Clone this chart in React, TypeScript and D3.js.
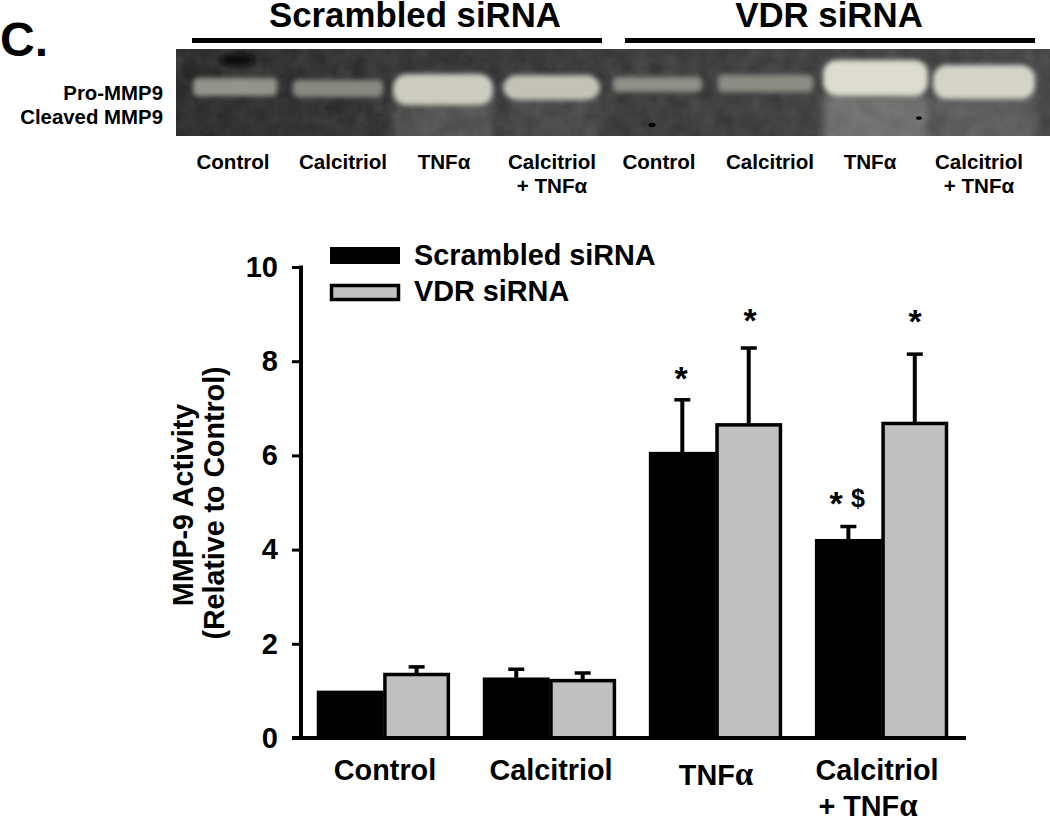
import React, { useEffect, useRef } from 'react'
import * as d3 from 'd3'

const groups = ['Control', 'Calcitriol', 'TNFα', 'Calcitriol + TNFα']
const seriesNames = ['Scrambled siRNA', 'VDR siRNA']
const scrambledValues = [1.0, 1.28, 6.07, 4.22]
const scrambledErrors = [0, 0.18, 1.11, 0.27]
const vdrValues = [1.38, 1.25, 6.68, 6.71]
const vdrErrors = [0.13, 0.13, 1.6, 1.44]
const yTicks = [0, 2, 4, 6, 8, 10]

const laneNames = ['Control', 'Calcitriol', 'TNFα', 'Calcitriol + TNFα', 'Control', 'Calcitriol', 'TNFα', 'Calcitriol + TNFα']
const laneBrightness = [0.55, 0.48, 0.9, 0.84, 0.52, 0.5, 1, 0.95]
const laneBandLeft = [17, 117, 217, 327, 437, 542, 647, 757]
const laneBandRight = [101, 207, 317, 424, 526, 637, 752, 859]
const laneBandTop = [29, 31, 25, 26, 28, 26, 11, 16]
const laneBandBottom = [47, 48, 56, 51, 43, 43, 47, 50]
const laneSmear = [0, 0, 0.14, 0.07, 0, 0, 0.24, 0.13]

const width = 1050
const height = 818
const bold = '"Liberation Sans", Arial, sans-serif'
const serif = '"Liberation Serif", serif'

function App () {
  const axisRef = useRef<SVGGElement>(null)

  const y = d3.scaleLinear().domain([0, 10]).range([738, 267])
  const x = d3.scaleBand().domain(groups).range([317, 948]).paddingInner(0.2)
  const inner = d3.scaleBand().domain(seriesNames).range([0, x.bandwidth()])

  const gelX = d3.scaleLinear().domain([0, 874]).range([176, 1050])
  const gelY = d3.scaleLinear().domain([0, 87]).range([49, 136])
  const shade = d3.scaleLinear<string>().domain([0, 1]).range(['#3c3c3a', '#dcdcd0'])

  useEffect(() => {
    const g = d3.select(axisRef.current).attr('transform', 'translate(301,0)')
    g.call(d3.axisLeft(y).tickValues(yTicks).tickSize(9).tickPadding(14).tickFormat(d3.format('d')) as any)
    g.select('.domain').attr('stroke-width', 4).attr('d', 'M0,265.5V740')
    g.selectAll('.tick line').attr('stroke-width', 3)
    g.selectAll('.tick text')
      .attr('font-family', bold)
      .attr('font-weight', 700)
      .attr('font-size', 29)
      .attr('fill', '#000')
  }, [])

  const series = [
    { name: seriesNames[0], values: scrambledValues, errors: scrambledErrors, fill: '#000' },
    { name: seriesNames[1], values: vdrValues, errors: vdrErrors, fill: '#c0c0c0' }
  ]

  const barLabel = { fontFamily: bold, fontWeight: 700, fontSize: 28.8, textAnchor: 'middle' as const }
  const axisTitle = { fontFamily: bold, fontWeight: 700, fontSize: 28.6, textAnchor: 'middle' as const }
  const gelLabel = { fontFamily: bold, fontWeight: 700, fontSize: 20.6, textAnchor: 'middle' as const }
  const sideLabel = { fontFamily: bold, fontWeight: 700, fontSize: 20.4, textAnchor: 'end' as const }
  const laneLabelX = [233, 343, 444, 552, 659, 770, 870, 979]

  return (
    <svg width={width} height={height} style={{ position: 'absolute', left: 0, top: 0, display: 'block' }}>
      <defs>
        <filter id='bandBlur' x='-20%' y='-50%' width='140%' height='200%'>
          <feGaussianBlur stdDeviation='2.6' />
        </filter>
        <filter id='smearBlur' x='-20%' y='-20%' width='140%' height='140%'>
          <feGaussianBlur stdDeviation='5' />
        </filter>
        <filter id='gelNoise' x='0' y='0' width='100%' height='100%'>
          <feTurbulence type='fractalNoise' baseFrequency='0.06' numOctaves='3' seed='4' />
          <feColorMatrix type='matrix' values='0 0 0 0 0.5  0 0 0 0 0.5  0 0 0 0 0.5  0.6 0.6 0 0 -0.25' />
        </filter>
        <linearGradient id='gelBack' x1='0' x2='1' y1='0' y2='0'>
          <stop offset='0' stopColor='#232323' />
          <stop offset='0.5' stopColor='#333333' />
          <stop offset='1' stopColor='#3e3e3e' />
        </linearGradient>
        <clipPath id='gelClip'>
          <rect x={176} y={49} width={874} height={87} />
        </clipPath>
      </defs>

      <text x={415} y={27} fontFamily={bold} fontWeight={700} fontSize={34.8} textAnchor='middle'>Scrambled siRNA</text>
      <text x={829} y={27} fontFamily={bold} fontWeight={700} fontSize={34.8} textAnchor='middle'>VDR siRNA</text>
      <rect x={192} y={38} width={410} height={5} fill='#000' />
      <rect x={625} y={38} width={410} height={5} fill='#000' />

      <text x={0} y={56} fontFamily={bold} fontWeight={700} fontSize={48}>C.</text>

      <g clipPath='url(#gelClip)'>
        <rect x={176} y={49} width={874} height={87} fill='url(#gelBack)' />
        <rect x={176} y={49} width={874} height={87} filter='url(#gelNoise)' opacity={0.25} />
        {laneNames.map((name, i) => (
          <rect key={'smear' + i} x={gelX(laneBandLeft[i])} y={gelY(45)}
            width={gelX(laneBandRight[i]) - gelX(laneBandLeft[i])} height={gelY(100) - gelY(45)}
            fill='#fff' opacity={laneSmear[i]} filter='url(#smearBlur)' />
        ))}
        {laneNames.map((name, i) => (
          <rect key={name + i} x={gelX(laneBandLeft[i])} y={gelY(laneBandTop[i])}
            width={gelX(laneBandRight[i]) - gelX(laneBandLeft[i])} height={gelY(laneBandBottom[i]) - gelY(laneBandTop[i])}
            rx={laneBrightness[i] > 0.8 ? 14 : 5}
            fill={shade(laneBrightness[i])} filter='url(#bandBlur)' />
        ))}
        <ellipse cx={237} cy={60} rx={18} ry={6} fill='#0c0c0c' filter='url(#bandBlur)' />
        <ellipse cx={652} cy={125} rx={3.5} ry={2.2} fill='#000' />
        <ellipse cx={919} cy={118} rx={3} ry={1.8} fill='#000' />
      </g>

      <text x={163} y={100} {...sideLabel}>Pro-MMP9</text>
      <text x={163} y={124} {...sideLabel}>Cleaved MMP9</text>

      {laneNames.map((name, i) => {
        const parts = name.split(' + ')
        return (
          <g key={'lab' + i}>
            <text x={laneLabelX[i]} y={169} {...gelLabel}>{parts[0]}</text>
            {parts[1] && <text x={laneLabelX[i]} y={193} {...gelLabel}>+ {parts[1]}</text>}
          </g>
        )
      })}

      <g>
        <rect x={330} y={247} width={70} height={17} fill='#000' />
        <rect x={331.5} y={285.5} width={67} height={14} fill='#c0c0c0' stroke='#000' strokeWidth={3.5} />
        <text x={414} y={265} fontFamily={bold} fontWeight={700} fontSize={28.8}>{seriesNames[0]}</text>
        <text x={414} y={301} fontFamily={bold} fontWeight={700} fontSize={28.8}>{seriesNames[1]}</text>
      </g>

      {series.map(s => (
        <g key={s.name}>
          {groups.map((grp, i) => {
            const bx = x(grp)! + inner(s.name)!
            const cx = bx + inner.bandwidth() / 2
            const top = y(s.values[i])
            const errTop = y(s.values[i] + s.errors[i])
            return (
              <g key={grp}>
                {s.errors[i] > 0 && <line x1={cx} x2={cx} y1={top} y2={errTop} stroke='#000' strokeWidth={4} />}
                {s.errors[i] > 0 && <line x1={cx - 8} x2={cx + 8} y1={errTop} y2={errTop} stroke='#000' strokeWidth={3.5} />}
                <rect x={bx + 1.5} y={top + 1.5} width={inner.bandwidth() - 3} height={y(0) - top - 1.5}
                  fill={s.fill} stroke='#000' strokeWidth={3.5} />
              </g>
            )
          })}
        </g>
      ))}

      <g ref={axisRef} />
      <line x1={292} x2={966} y1={y(0)} y2={y(0)} stroke='#000' strokeWidth={4} />

      <g fontFamily={bold} fontWeight={700} fontSize={34}>
        <text x={681} y={390} textAnchor='middle'>*</text>
        <text x={750} y={332} textAnchor='middle'>*</text>
        <text x={915} y={333} textAnchor='middle'>*</text>
        <text x={836} y={515} textAnchor='middle'>*</text>
        <text x={858} y={507} fontSize={25} textAnchor='middle'>$</text>
      </g>

      <text transform='translate(193,505) rotate(-90)' {...axisTitle}>MMP-9 Activity</text>
      <text transform='translate(224,503) rotate(-90)' {...axisTitle}>(Relative to Control)</text>

      <text x={385} y={780} {...barLabel}>Control</text>
      <text x={551} y={780} {...barLabel}>Calcitriol</text>
      <text x={716} y={785} {...barLabel}>TNF<tspan fontFamily={serif} fontSize={33}>α</tspan></text>
      <text x={877} y={780} {...barLabel}>Calcitriol</text>
      <text x={868} y={816} {...barLabel}>+ TNF<tspan fontFamily={serif} fontSize={33}>α</tspan></text>
    </svg>
  )
}

export default App
